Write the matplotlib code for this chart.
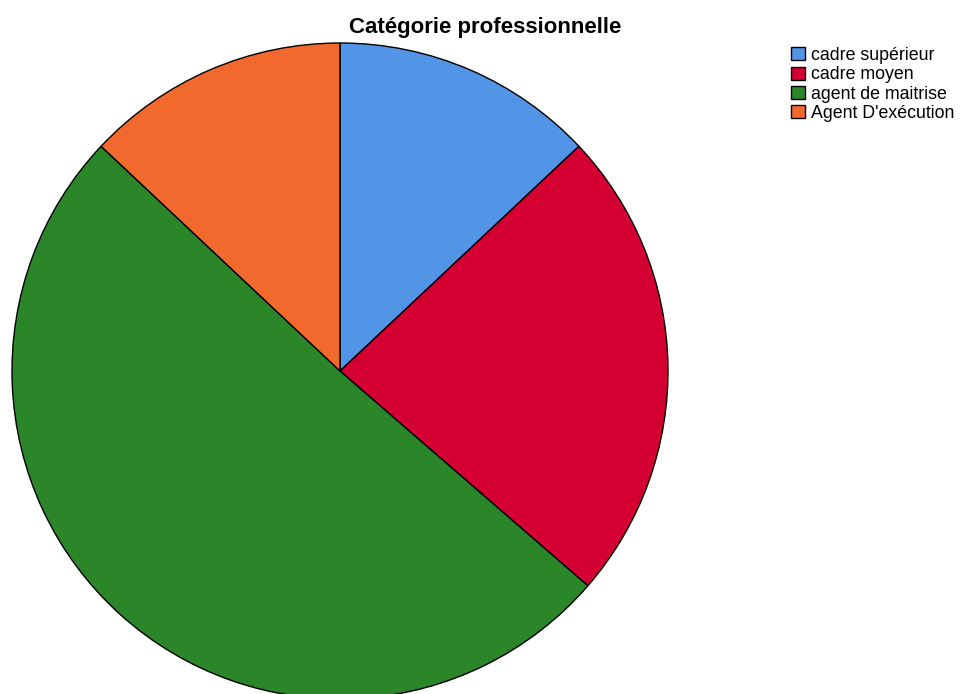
import matplotlib.pyplot as plt

plt.rcParams['font.family'] = ['Liberation Sans', 'DejaVu Sans']

categories = ["cadre supérieur", "cadre moyen", "agent de maitrise", "Agent D'exécution"]
counts = [10, 18, 39, 10]
colors = ["#5295E6", "#D50032", "#2A8629", "#F2692E"]

W, H = 967, 694
fig = plt.figure(figsize=(W / 100, H / 100), dpi=100)
ax = fig.add_axes([0, 0, 1, 1])

wedges, _ = ax.pie(counts, colors=colors, startangle=90, counterclock=False,
                   center=(340, H - 371), radius=328,
                   wedgeprops={'edgecolor': 'black', 'linewidth': 1})
ax.set_xlim(0, W)
ax.set_ylim(0, H)
ax.set_aspect('equal')
ax.axis('off')

fig.text(485 / W, 1 - 27 / H, "Catégorie professionnelle", ha='center', va='center',
         fontsize=16, fontweight='bold')

leg = fig.legend(wedges, categories, loc='upper left', bbox_to_anchor=(791 / W, 1 - 47 / H),
                 frameon=False, fontsize=12.8, handlelength=0.8, handleheight=0.75,
                 handletextpad=0.35, labelspacing=0.13, borderaxespad=0, borderpad=0)

fig.savefig("out.png", dpi=100)
